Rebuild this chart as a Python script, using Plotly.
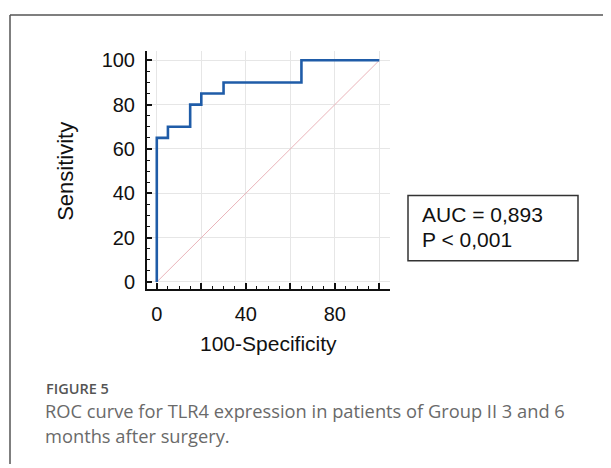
import plotly.graph_objects as go

# ROC curve data (100-Specificity, Sensitivity)
fpr = [0, 0, 5, 5, 15, 15, 20, 20, 30, 30, 65, 65, 100]
tpr = [0, 65, 65, 70, 70, 80, 80, 85, 85, 90, 90, 100, 100]
diag_x = [0, 100]
diag_y = [0, 100]
x_tickvals = [0, 20, 40, 60, 80, 100]
x_ticktext = ["0", "", "40", "", "80", ""]
y_tickvals = [0, 20, 40, 60, 80, 100]
auc_text = "AUC = 0,893"
p_text = "P < 0,001"

# page body has an 8px margin; the figure fills the rest of the 611x468 window
OFF = 8
W, H = 611 - OFF, 468 - OFF

def px(x):
    return (x - OFF) / W

def py(y):
    return 1 - (y - OFF) / H

fig = go.Figure()
fig.add_trace(go.Scatter(x=diag_x, y=diag_y, mode="lines",
                         line=dict(color="#eab4ba", width=1), showlegend=False))
fig.add_trace(go.Scatter(x=fpr, y=tpr, mode="lines",
                         line=dict(color="#1f5ca8", width=2.6), showlegend=False))

axis_font = dict(family="Liberation Sans, Arial, sans-serif", size=20, color="#111")

fig.update_layout(
    width=W, height=H,
    margin=dict(l=0, r=0, t=0, b=0),
    paper_bgcolor="white", plot_bgcolor="white",
    xaxis=dict(domain=[px(147), px(390)], range=[-4.4, 104.8], tickmode="array",
               tickvals=x_tickvals, ticktext=x_ticktext,
               showline=True, linecolor="#111", linewidth=2, ticks="inside", ticklen=6,
               tickwidth=1.5, tickcolor="#111", tickfont=axis_font, ticklabelstandoff=6,
               showgrid=True, gridcolor="#e6e6e6", gridwidth=1, zeroline=False,
               minor=dict(tickmode="linear", tick0=0, dtick=5, ticks="inside", ticklen=3,
                          tickwidth=1.2, tickcolor="#111", showgrid=False)),
    yaxis=dict(domain=[py(291), py(50)], range=[-3.3, 104], tickmode="array", tickvals=y_tickvals,
               showline=True, linecolor="#111", linewidth=2, ticks="inside", ticklen=5,
               tickwidth=1.5, tickcolor="#111", tickfont=axis_font, ticklabelstandoff=6,
               showgrid=True, gridcolor="#e6e6e6", gridwidth=1, zeroline=False,
               minor=dict(tickmode="linear", tick0=0, dtick=5, ticks="inside", ticklen=3,
                          tickwidth=1.2, tickcolor="#111", showgrid=False)),
)

def ann(text, x, y, size, color="#111", family="Liberation Sans, Arial, sans-serif",
        xanchor="center", angle=0, weight="normal"):
    fig.add_annotation(text=text, xref="paper", yref="paper", x=px(x), y=py(y),
                       xanchor=xanchor, yanchor="middle", showarrow=False, textangle=angle,
                       font=dict(family=family, size=size, color=color, weight=weight))

# Axis titles
ann("100-Specificity", 268, 346, 21)
ann("Sensitivity", 66, 172, 22, angle=-90)

# AUC box
fig.add_shape(type="rect", xref="paper", yref="paper",
              x0=px(408), x1=px(578), y0=py(262), y1=py(196),
              line=dict(color="#333", width=1.5), fillcolor="white")
ann(auc_text, 420, 215, 21, xanchor="left")
ann(p_text, 420, 241, 21, xanchor="left")

# Outer frame lines
fig.add_shape(type="line", xref="paper", yref="paper", x0=px(10), x1=px(10), y0=py(13), y1=0,
              line=dict(color="#555", width=1.5))
fig.add_shape(type="line", xref="paper", yref="paper", x0=px(10), x1=1, y0=py(13), y1=py(13),
              line=dict(color="#555", width=1.5))

# Caption
cap = "Open Sans, Lato, sans-serif"
ann("FIGURE 5", 44, 391, 14.5, color="#555", family=cap, xanchor="left", weight=600)
ann("ROC curve for TLR4 expression in patients of Group II 3 and 6", 43, 414, 18.3,
    color="#6a6a6a", family=cap, xanchor="left")
ann("months after surgery.", 43, 439, 18.3, color="#6a6a6a", family=cap, xanchor="left")

fig.write_html("out.html")
